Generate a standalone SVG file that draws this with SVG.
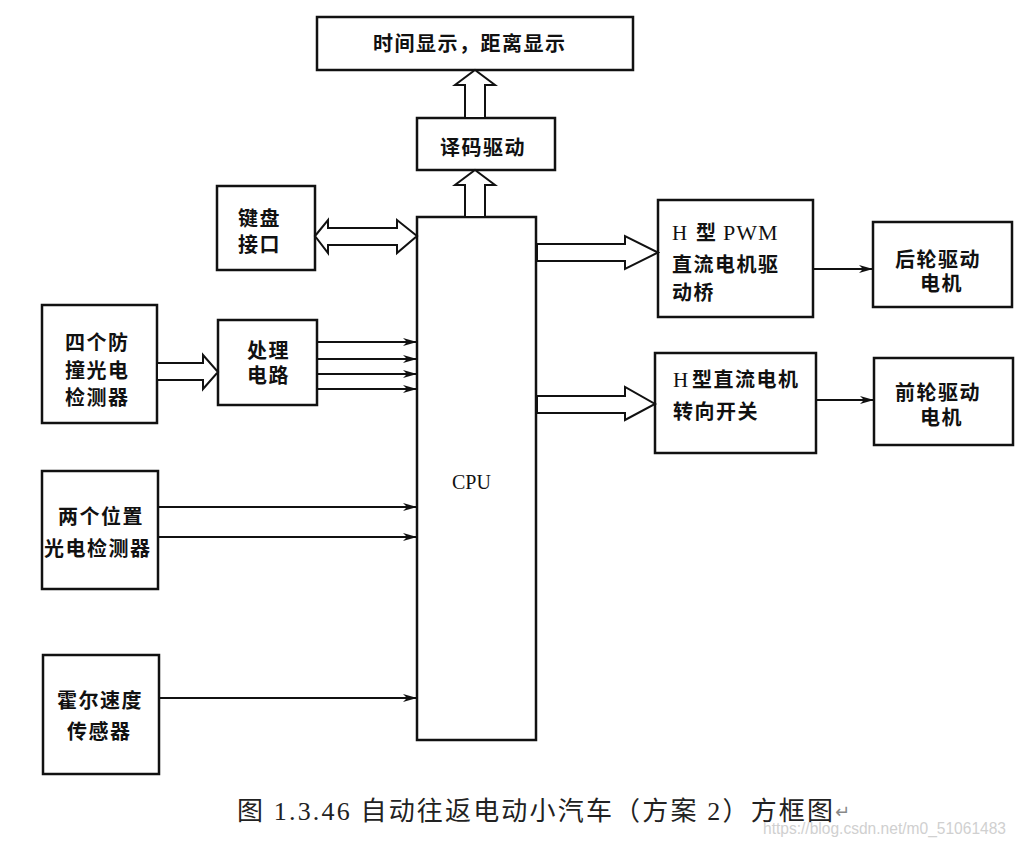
<svg xmlns="http://www.w3.org/2000/svg" width="1020" height="847" viewBox="0 0 1020 847">
<style>
.box{fill:#fff;stroke:#111;stroke-width:2.5}
.t{font-family:"Noto Sans CJK SC",sans-serif;font-weight:bold;font-size:20px;letter-spacing:1.5px;fill:#111}
.tm{font-family:"Liberation Serif","Noto Sans CJK SC",serif;font-weight:600;font-size:20px;letter-spacing:1.5px;fill:#111}
.ser{font-family:"Liberation Serif",serif;font-weight:normal;letter-spacing:0}
.line{fill:none;stroke:#111;stroke-width:2}
.hollow{fill:#fff;stroke:#111;stroke-width:2;stroke-linejoin:miter}
</style>
<defs>
<marker id="ah" markerWidth="14" markerHeight="10" refX="13" refY="5" orient="auto" markerUnits="userSpaceOnUse">
<path d="M0,1 L14,5 L0,9 L4,5 Z" fill="#111"/>
</marker>
</defs>
<rect width="1020" height="847" fill="#fff"/>

<g id="display"><rect class="box" x="317" y="17" width="316" height="53"/><text class="t" x="373" y="51">时间显示，距离显示</text></g>
<g id="decoder"><rect class="box" x="417" y="118" width="138" height="52"/><text class="t" x="440" y="155">译码驱动</text></g>
<g id="cpu"><rect class="box" x="417" y="217" width="119" height="523"/><text x="452" y="489" style="font-family:'Liberation Serif',serif;font-size:20px;fill:#111">CPU</text></g>
<g id="keyboard"><rect class="box" x="217" y="186" width="98" height="84"/><text class="t" x="238" y="226">键盘</text><text class="t" x="238" y="252">接口</text></g>
<g id="process"><rect class="box" x="218" y="320" width="99" height="85"/><text class="t" x="247" y="358">处理</text><text class="t" x="247" y="383">电路</text></g>
<g id="bump"><rect class="box" x="42" y="305" width="115" height="118"/><text class="t" x="65" y="350">四个防</text><text class="t" x="65" y="378">撞光电</text><text class="t" x="65" y="405">检测器</text></g>
<g id="position"><rect class="box" x="42" y="471" width="116" height="118"/><text class="t" x="58" y="524">两个位置</text><text class="t" x="44" y="556">光电检测器</text></g>
<g id="hall"><rect class="box" x="43" y="655" width="116" height="119"/><text class="t" x="57" y="708">霍尔速度</text><text class="t" x="67" y="739">传感器</text></g>
<g id="pwm"><rect class="box" x="658" y="200" width="155" height="117"/><text class="tm" y="240"><tspan class="ser" x="672" style="font-size:21px">H</tspan><tspan x="696">型</tspan><tspan class="ser" x="723" style="font-size:22px;letter-spacing:1px">PWM</tspan></text><text class="tm" x="672" y="272">直流电机驱</text><text class="tm" x="672" y="300">动桥</text></g>
<g id="rear"><rect class="box" x="873" y="222" width="139" height="85"/><text class="t" x="895" y="267">后轮驱动</text><text class="t" x="920" y="291">电机</text></g>
<g id="steer"><rect class="box" x="655" y="353" width="161" height="100"/><text class="tm" y="387"><tspan class="ser" x="673" style="font-size:21px">H</tspan><tspan x="692">型直流电机</tspan></text><text class="tm" x="673" y="419">转向开关</text></g>
<g id="front"><rect class="box" x="874" y="358" width="139" height="87"/><text class="t" x="895" y="400">前轮驱动</text><text class="t" x="920" y="425">电机</text></g>

<g id="connectors">
<polygon class="hollow" points="465,217 465,185 455,185 475,170 495,185 485,185 485,217"/>
<polygon class="hollow" points="465,118 465,85 455,85 475,70 495,85 485,85 485,118"/>
<polygon class="hollow" points="315,236 328,220 328,228 397,228 397,220 417,236 397,253 397,245 328,245 328,253"/>
<polygon class="hollow" points="157,363 203,363 203,355 218,372 203,389 203,380 157,380"/>
<polygon class="hollow" points="537,244 625,244 625,236 658,252.5 625,269 625,261 537,261"/>
<polygon class="hollow" points="537,396 625,396 625,387 655,404 625,420 625,413 537,413"/>
<line class="line" x1="317" y1="342" x2="416" y2="342" marker-end="url(#ah)"/>
<line class="line" x1="317" y1="359" x2="416" y2="359" marker-end="url(#ah)"/>
<line class="line" x1="317" y1="374" x2="416" y2="374" marker-end="url(#ah)"/>
<line class="line" x1="317" y1="389" x2="416" y2="389" marker-end="url(#ah)"/>
<line class="line" x1="158" y1="507" x2="416" y2="507" marker-end="url(#ah)"/>
<line class="line" x1="158" y1="537" x2="416" y2="537" marker-end="url(#ah)"/>
<line class="line" x1="159" y1="698" x2="416" y2="698" marker-end="url(#ah)"/>
<line class="line" x1="813" y1="269" x2="872" y2="269" marker-end="url(#ah)"/>
<line class="line" x1="816" y1="400" x2="873" y2="400" marker-end="url(#ah)"/>
</g>

<text x="237" y="820" textLength="596" lengthAdjust="spacing" style="font-family:'Liberation Serif','Noto Sans CJK SC',serif;font-size:26px;fill:#222">图 1.3.46 自动往返电动小汽车（方案 2）方框图</text>
<text x="835" y="818" style="font-family:'DejaVu Sans',sans-serif;font-size:18px;fill:#888">↵</text>
<text x="763" y="834" textLength="243" lengthAdjust="spacingAndGlyphs" style="font-family:'Liberation Sans',sans-serif;font-size:17px;fill:#d0d0d0">https://blog.csdn.net/m0_51061483</text>
</svg>
